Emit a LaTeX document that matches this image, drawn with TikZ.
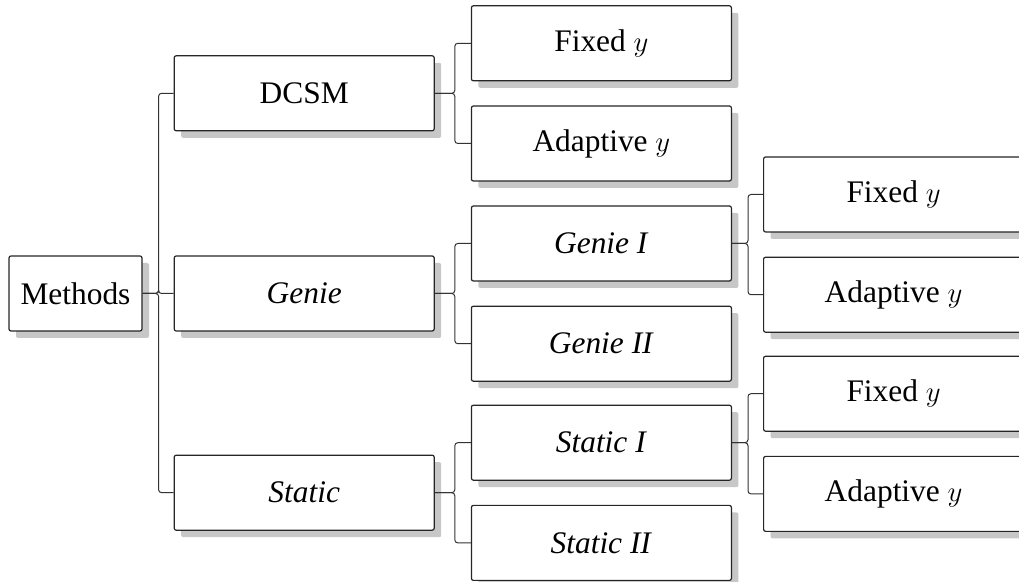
\documentclass[tikz,border=0pt]{standalone}
\usepackage{fontspec}
\setmainfont{Liberation Serif}
\usepackage{amsmath}
\usepackage{tikz}
\usetikzlibrary{positioning, shadows, calc}

\begin{document}
\begin{tikzpicture}[
  box/.style={rectangle, draw=black!85, line width=0.6pt, rounded corners=1pt, fill=white,
    minimum width=130pt, minimum height=37.5pt, inner sep=2pt, align=center,
    font=\fontsize{15.7}{18}\selectfont,
    drop shadow={shadow xshift=3.5pt, shadow yshift=-3.5pt, fill=black!22, opacity=1}},
  link/.style={draw=black!80, line width=0.5pt, rounded corners=1.5pt}
]
  \useasboundingbox (0,0) rectangle (509.5pt,-291pt);

  % root and first level
  \node[box, minimum width=66.5pt] (methods) at (37.75pt,-146.75pt) {Methods};
  \node[box, right=15.5pt of methods] (genie) {\textit{Genie}};
  \node[box, above=62pt of genie] (dcsm) {DCSM};
  \node[box, below=61.5pt of genie] (static) {\textit{Static}};

  % second level
  \node[box, right=18pt of dcsm, yshift=25pt] (dcsmfix) {Fixed $y$};
  \node[box, below=12pt of dcsmfix] (dcsmada) {Adaptive $y$};
  \node[box, right=18pt of genie, yshift=25pt] (genieone) {\textit{Genie I}};
  \node[box, below=12pt of genieone] (genietwo) {\textit{Genie II}};
  \node[box, right=18pt of static, yshift=25pt] (staticone) {\textit{Static I}};
  \node[box, below=12pt of staticone] (statictwo) {\textit{Static II}};

  % third level
  \node[box, right=15.5pt of genieone, yshift=24.5pt] (geniefix) {Fixed $y$};
  \node[box, below=12pt of geniefix] (genieada) {Adaptive $y$};
  \node[box, right=15.5pt of staticone, yshift=24.5pt] (staticfix) {Fixed $y$};
  \node[box, below=12pt of staticfix] (staticada) {Adaptive $y$};

  % connectors
  \foreach \p/\c/\d in {methods/dcsm/8pt, methods/genie/8pt, methods/static/8pt,
      dcsm/dcsmfix/10pt, dcsm/dcsmada/10pt, genie/genieone/10pt, genie/genietwo/10pt,
      static/staticone/10pt, static/statictwo/10pt,
      genieone/geniefix/8pt, genieone/genieada/8pt,
      staticone/staticfix/8pt, staticone/staticada/8pt}
    \draw[link] (\p.east) -- ++(\d,0) |- (\c.west);
\end{tikzpicture}
\end{document}
